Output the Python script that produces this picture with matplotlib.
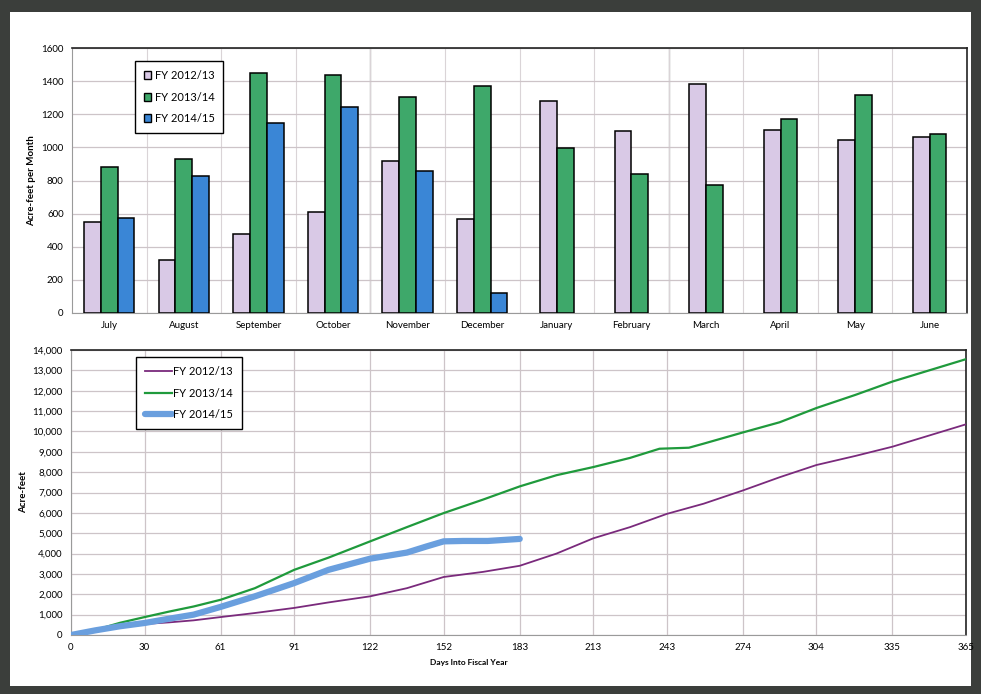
import numpy as np
import matplotlib
matplotlib.use("Agg")
import matplotlib.pyplot as plt
from matplotlib.patches import Rectangle
from matplotlib.ticker import FuncFormatter

plt.rcParams['font.family'] = ['Lato', 'DejaVu Sans']

# monthly use, acre-feet
months = ["July", "August", "September", "October", "November", "December",
          "January", "February", "March", "April", "May", "June"]
fy1213 = [550, 320, 475, 610, 915, 570, 1280, 1100, 1385, 1105, 1045, 1065]
fy1314 = [880, 930, 1450, 1440, 1305, 1370, 995, 840, 775, 1170, 1315, 1080]
fy1415 = [575, 825, 1145, 1245, 860, 120, None, None, None, None, None, None]

# cumulative use, acre-feet by day into fiscal year
days_1213 = [0, 10, 20, 30, 40, 50, 61, 75, 91, 105, 122, 137, 152, 168, 183,
             198, 213, 228, 243, 258, 274, 289, 304, 320, 335, 350, 365]
cum_1213 = [0, 220, 420, 540, 620, 720, 880, 1080, 1330, 1600, 1900, 2300, 2850,
            3100, 3400, 4000, 4750, 5300, 5950, 6450, 7100, 7750, 8350, 8800,
            9250, 9800, 10350]
days_1314 = [0, 10, 20, 30, 40, 50, 61, 75, 91, 105, 122, 137, 152, 168, 183,
             198, 213, 228, 240, 252, 258, 274, 289, 304, 320, 335, 350, 365]
cum_1314 = [0, 250, 600, 880, 1150, 1400, 1730, 2300, 3200, 3800, 4600, 5300,
            5990, 6650, 7300, 7850, 8250, 8700, 9150, 9200, 9400, 9950, 10450,
            11150, 11800, 12450, 13000, 13550]
days_1415 = [0, 10, 20, 30, 40, 50, 61, 75, 91, 105, 122, 137, 145, 152, 160,
             170, 183]
cum_1415 = [0, 230, 430, 590, 800, 1000, 1380, 1900, 2550, 3200, 3750, 4050,
            4350, 4600, 4620, 4620, 4720]
day_ticks = [0, 30, 61, 91, 122, 152, 183, 213, 243, 274, 304, 335, 365]

c_purple = '#d9c9e6'
c_green = '#3ea86a'
c_blue = '#3a86d6'
grid_c = '#cdc4c8'

fig = plt.figure(figsize=(9.81, 6.94), dpi=100)
fig.patch.set_facecolor('#3b3e3b')
fig.add_artist(Rectangle((10 / 981, 8 / 694), 961 / 981, 674 / 694,
                         transform=fig.transFigure, facecolor='white',
                         edgecolor='none', zorder=-10))

# ---- monthly bars ----
ax1 = fig.add_axes([72 / 981, 1 - 313 / 694, 895 / 981, 265 / 694])
x = np.arange(len(months))
w = 0.225
for i in range(len(months)):
    vals = [fy1213[i], fy1314[i], fy1415[i]]
    cols = [c_purple, c_green, c_blue]
    n = sum(v is not None for v in vals)
    offs = (np.arange(n) - (n - 1) / 2) * w
    k = 0
    for v, c in zip(vals, cols):
        if v is None:
            continue
        ax1.bar(x[i] + offs[k], v, w, color=c, edgecolor='black', linewidth=1.1, zorder=3)
        k += 1

ax1.set_xlim(-0.5, len(months) - 0.5)
ax1.set_ylim(0, 1600)
ax1.set_yticks(range(0, 1601, 200))
ax1.set_xticks(x)
ax1.set_xticklabels(months)
ax1.set_xticks(np.arange(0.5, len(months) - 1), minor=True)
ax1.grid(axis='y', color=grid_c, linewidth=0.9, zorder=0)
ax1.grid(axis='x', which='minor', color='#dad4d7', linewidth=0.8, zorder=0)
for xb in [3.5, 7.5]:
    ax1.axvline(xb, color='#8a8a8a', linewidth=0.9, zorder=1)
ax1.tick_params(axis='both', length=0, labelsize=7, pad=6)
ax1.tick_params(axis='x', which='minor', length=0)
ax1.set_ylabel("Acre-feet per Month", fontsize=7, fontweight='bold', labelpad=4)
for s in ['top', 'right']:
    ax1.spines[s].set_color('#222222')
    ax1.spines[s].set_linewidth(1.2)
for s in ['left', 'bottom']:
    ax1.spines[s].set_color('#9a9a9a')
    ax1.spines[s].set_linewidth(0.8)

hb = [Rectangle((0, 0), 1, 1, facecolor=c, edgecolor='black', linewidth=1)
      for c in [c_purple, c_green, c_blue]]
leg1 = ax1.legend(hb, ["FY 2012/13", "FY 2013/14", "FY 2014/15"], loc='upper left',
                  bbox_to_anchor=(0.07, 0.95), fontsize=8, fancybox=False,
                  edgecolor='black', framealpha=1, labelspacing=0.95,
                  handlelength=0.7, handleheight=0.7, handletextpad=0.3,
                  borderpad=0.8, borderaxespad=0)
leg1.get_frame().set_linewidth(1.0)
leg1.set_zorder(5)

# ---- cumulative lines ----
ax2 = fig.add_axes([71 / 981, 1 - 635 / 694, 895 / 981, 285 / 694])
ax2.plot(days_1213, cum_1213, color='#7a2a7c', linewidth=1.3, label="FY 2012/13", zorder=3)
ax2.plot(days_1314, cum_1314, color='#1f9a3c', linewidth=1.6, label="FY 2013/14", zorder=3)
ax2.plot(days_1415, cum_1415, color='#6a9fde', linewidth=4.5, label="FY 2014/15",
         solid_capstyle='round', zorder=4)
ax2.set_xlim(0, 365)
ax2.set_ylim(0, 14000)
ax2.set_xticks(day_ticks)
ax2.set_yticks(range(0, 14001, 1000))
ax2.yaxis.set_major_formatter(FuncFormatter(lambda v, p: f"{int(v):,}"))
ax2.grid(True, color=grid_c, linewidth=0.9, zorder=0)
ax2.tick_params(axis='both', length=0, labelsize=7, pad=6)
ax2.set_ylabel("Acre-feet", fontsize=7, fontweight='bold', labelpad=3)
ax2.set_xlabel("Days Into Fiscal Year", fontsize=6, fontweight='bold', labelpad=1)
ax2.xaxis.set_label_coords(0.445, -0.085)
for s in ['top', 'right']:
    ax2.spines[s].set_color('#222222')
    ax2.spines[s].set_linewidth(1.2)
for s in ['left', 'bottom']:
    ax2.spines[s].set_color('#9a9a9a')
    ax2.spines[s].set_linewidth(0.8)

leg2 = ax2.legend(loc='upper left', bbox_to_anchor=(0.073, 0.975), fontsize=8,
                  fancybox=False, edgecolor='black', framealpha=1, labelspacing=0.95,
                  handlelength=2.4, handletextpad=0.1, borderpad=0.8, borderaxespad=0)
leg2.get_frame().set_linewidth(1.0)

fig.savefig("out.png", dpi=100, facecolor=fig.get_facecolor())
